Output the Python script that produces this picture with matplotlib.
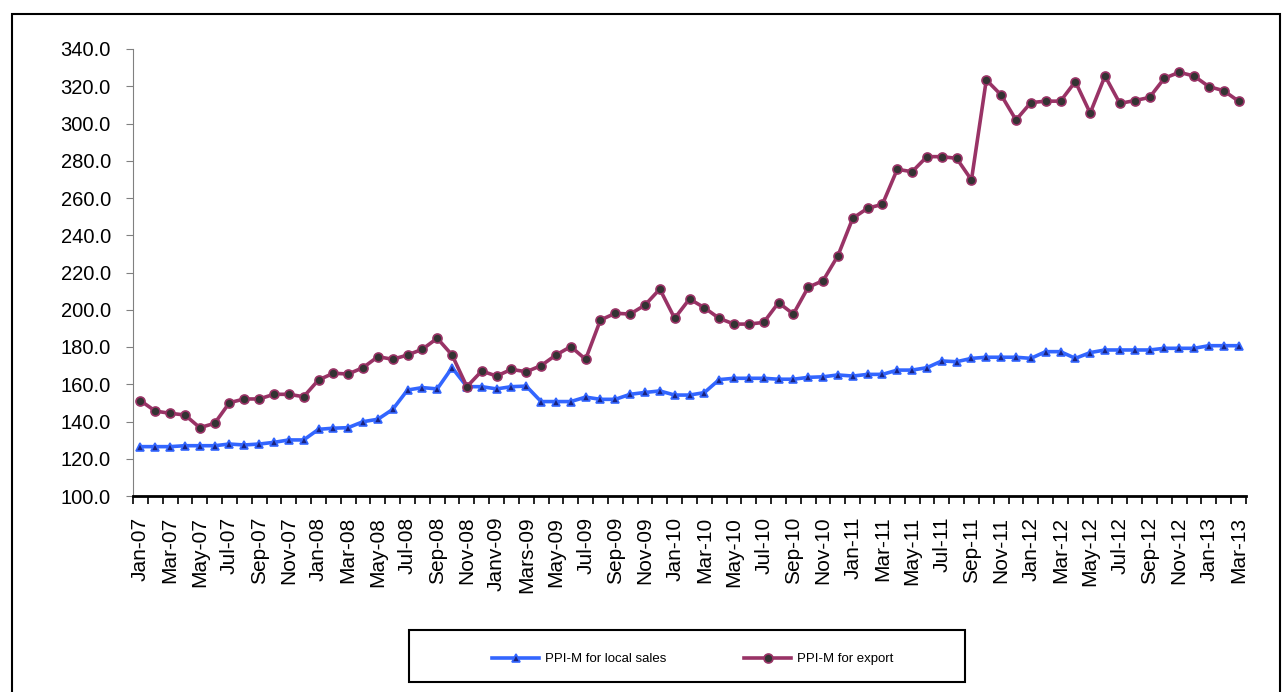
import numpy as np
import matplotlib
matplotlib.use("Agg")
import matplotlib.pyplot as plt
from matplotlib.patches import Rectangle
from matplotlib.ticker import FormatStrFormatter

plt.rcParams['font.family'] = ['Liberation Sans', 'DejaVu Sans']

# monthly series, Jan-07 .. Mar-13
local_sales = [126.5, 126.5, 126.5, 127, 127, 127, 127.9, 127.4, 127.9, 128.8, 130.1, 130.1,
               135.8, 136.4, 136.7, 139.9, 141.2, 146.5, 156.9, 158.2, 157.5, 168.9, 158.7, 158.7,
               157.5, 158.7, 159, 150.7, 150.7, 150.7, 153.1, 151.9, 151.9, 154.6, 155.6, 156.4,
               154.2, 154.2, 155.5, 162.5, 163.2, 163.2, 163.2, 162.7, 162.7, 163.7, 164, 165,
               164.4, 165.3, 165.3, 167.6, 167.6, 168.9, 172.5, 172.1, 173.9, 174.5, 174.5, 174.5,
               173.9, 177.5, 177.5, 173.9, 177, 178.4, 178.4, 178.4, 178.4, 179.3, 179.3, 179.3,
               180.7, 180.7, 180.7]
export = [151.2, 145.6, 144.4, 143.5, 136.7, 139, 150.1, 152.1, 152.1, 154.6, 154.6, 153.3,
          162.3, 165.9, 165.5, 168.9, 174.8, 173.4, 175.7, 178.8, 184.7, 175.7, 158.7, 167.1,
          164.4, 168, 166.7, 170, 175.7, 180.2, 173.4, 194.5, 198.1, 197.7, 202.5, 211.1,
          195.4, 205.8, 201.1, 195.4, 192.3, 192.3, 193.2, 203.8, 197.7, 212.1, 215.6, 229,
          249.1, 254.5, 256.6, 275.4, 274.1, 282.2, 282.2, 281.3, 269.7, 323.4, 315.3, 301.9,
          311.2, 312, 312, 322.5, 305.6, 325.5, 310.8, 312.3, 314, 324.3, 327.5, 325.5,
          319.8, 317.6, 312]
tick_labels = ['Jan-07', 'Mar-07', 'May-07', 'Jul-07', 'Sep-07', 'Nov-07',
               'Jan-08', 'Mar-08', 'May-08', 'Jul-08', 'Sep-08', 'Nov-08',
               'Janv-09', 'Mars-09', 'May-09', 'Jul-09', 'Sep-09', 'Nov-09',
               'Jan-10', 'Mar-10', 'May-10', 'Jul-10', 'Sep-10', 'Nov-10',
               'Jan-11', 'Mar-11', 'May-11', 'Jul-11', 'Sep-11', 'Nov-11',
               'Jan-12', 'Mar-12', 'May-12', 'Jul-12', 'Sep-12', 'Nov-12',
               'Jan-13', 'Mar-13']

x = np.arange(len(export))

W, H = 1286, 692
fig = plt.figure(figsize=(W / 100, H / 100), dpi=100)
# outer frame around the chart
fig.patches.append(Rectangle((12 / W, -0.1), 1268 / W, 1.1 - 14 / H,
                             transform=fig.transFigure, fill=False, ec='black', lw=1.5))
# legend frame
fig.patches.append(Rectangle((409 / W, 1 - 682 / H), 556 / W, 52 / H,
                             transform=fig.transFigure, fill=False, ec='black', lw=1.5))

ax = fig.add_axes([133 / W, 1 - 496 / H, 1113 / W, 447 / H])

ax.plot(x, local_sales, color='#3366FF', lw=2.6, marker='^', ms=6,
        mfc='#1A237E', mec='#3366FF', mew=1.2, label='PPI-M for local sales')
ax.plot(x, export, color='#993366', lw=2.6, marker='o', ms=6.5,
        mfc='#333333', mec='#993366', mew=1.2, label='PPI-M for export')

ax.set_xlim(-0.5, len(x) - 0.5)
ax.set_ylim(100, 340)
ax.set_yticks(np.arange(100, 341, 20))
ax.yaxis.set_major_formatter(FormatStrFormatter('%.1f'))

ax.set_xticks(x[::2])
ax.set_xticklabels(tick_labels, rotation=90)
ax.set_xticks(np.arange(-0.5, len(x), 1), minor=True)
ax.tick_params(axis='x', which='major', length=0, pad=15, labelsize=15)
ax.tick_params(axis='x', which='minor', length=6, width=1.2, direction='out')
ax.tick_params(axis='y', length=5, color='#808080', labelsize=14.5, pad=11)

ax.spines['top'].set_visible(False)
ax.spines['right'].set_visible(False)
ax.spines['left'].set_color('#808080')
ax.spines['bottom'].set_linewidth(2)

fig.legend(loc='center', bbox_to_anchor=(693 / W, 1 - 659 / H), ncol=2,
           fontsize=9.5, frameon=False, handlelength=3.5, handletextpad=0.5,
           columnspacing=5.9)

fig.savefig('out.png', dpi=100)
